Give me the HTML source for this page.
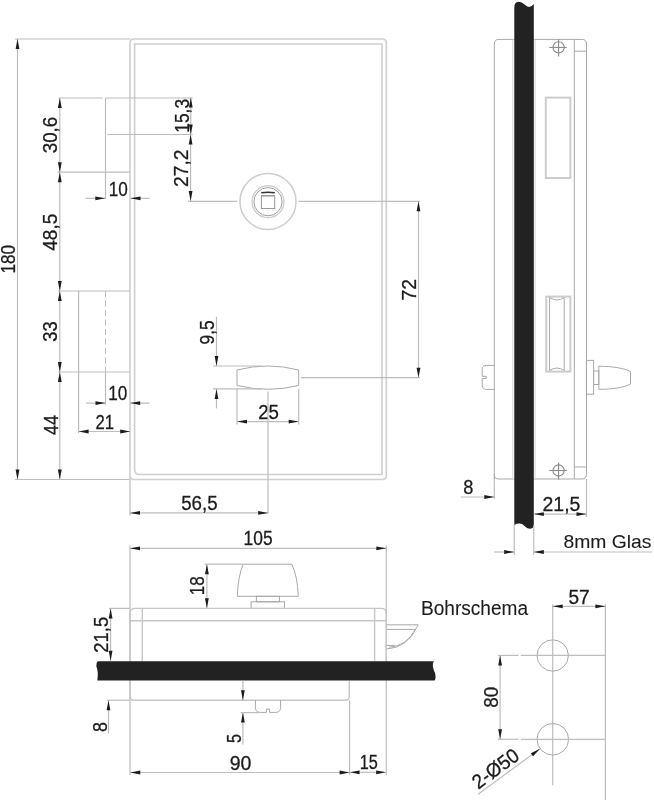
<!DOCTYPE html>
<html><head><meta charset="utf-8"><style>
html,body{margin:0;padding:0;background:#fff;}
svg{display:block;}
.d{stroke:#bdbdbd;stroke-width:1.2;fill:none;}
.o{stroke:#cfcfcf;stroke-width:1.6;fill:none;}
.o2{stroke:#dcdcdc;stroke-width:1.2;fill:none;}
.s{stroke:#cdcdcd;stroke-width:2;fill:none;}
.t{stroke:#a8a8a8;stroke-width:1;fill:none;}
.b{stroke:#c6c6c6;stroke-width:1.4;fill:none;}
.x{stroke:#8a8a8a;stroke-width:1.1;fill:none;}
.k{stroke:#9a9a9a;stroke-width:1;fill:none;}
.kd{stroke:#333;stroke-width:1.5;fill:none;}
.dash{stroke:#bdbdbd;stroke-width:1;fill:none;stroke-dasharray:6 3.5;}
.a{fill:#1c1c1c;stroke:none;}
.g{fill:#222;stroke:none;}
text{font-family:"Liberation Sans",sans-serif;fill:#1c1c1c;stroke:#1c1c1c;stroke-width:0.3;}
svg{will-change:transform;}
text.w{stroke-width:0.1;}
</style></head><body>
<svg width="654" height="800" viewBox="0 0 654 800">
<path class="o" d="M130,479.5 L130,43 Q130,39 134,39 L382.3,39 Q386.3,39 386.3,43 L386.3,475.5 Q386.3,479.5 382.3,479.5 L134,479.5 Q130,479.5 130,475.5 Z"/>
<path class="o" d="M134.6,44 L382,44 L382,474.5 L139.6,474.5 Q134.6,474.5 134.6,469.5 Z"/>
<line class="d" x1="15" y1="39" x2="130" y2="39"/>
<line class="d" x1="15" y1="479.5" x2="130" y2="479.5"/>
<line class="d" x1="17.5" y1="39" x2="17.5" y2="479.5"/>
<polygon class="a" points="17.50,39.00 15.60,49.00 19.40,49.00"/>
<polygon class="a" points="17.50,479.50 15.60,469.50 19.40,469.50"/>
<text transform="translate(14.70,259.20) rotate(-90)" x="0" y="0" font-size="20" textLength="28.70" lengthAdjust="spacingAndGlyphs" text-anchor="middle">180</text>
<line class="d" x1="58.5" y1="98" x2="102.6" y2="98"/>
<line class="d" x1="105.5" y1="98" x2="192.7" y2="98"/>
<line class="d" x1="57.5" y1="172.2" x2="130" y2="172.2"/>
<line class="d" x1="58" y1="291" x2="130" y2="291"/>
<line class="d" x1="58" y1="372" x2="130" y2="372"/>
<line class="d" x1="59.8" y1="98" x2="59.8" y2="172.2"/>
<polygon class="a" points="59.80,98.00 57.90,108.00 61.70,108.00"/>
<polygon class="a" points="59.80,172.20 57.90,162.20 61.70,162.20"/>
<line class="d" x1="59.8" y1="172.2" x2="59.8" y2="291"/>
<polygon class="a" points="59.80,172.20 57.90,182.20 61.70,182.20"/>
<polygon class="a" points="59.80,291.00 57.90,281.00 61.70,281.00"/>
<line class="d" x1="59.8" y1="291" x2="59.8" y2="372"/>
<polygon class="a" points="59.80,291.00 57.90,301.00 61.70,301.00"/>
<polygon class="a" points="59.80,372.00 57.90,362.00 61.70,362.00"/>
<line class="d" x1="59.8" y1="372" x2="59.8" y2="479.5"/>
<polygon class="a" points="59.80,372.00 57.90,382.00 61.70,382.00"/>
<polygon class="a" points="59.80,479.50 57.90,469.50 61.70,469.50"/>
<text transform="translate(57.20,135.00) rotate(-90)" x="0" y="0" font-size="20" textLength="36.50" lengthAdjust="spacingAndGlyphs" text-anchor="middle">30,6</text>
<text transform="translate(57.20,232.25) rotate(-90)" x="0" y="0" font-size="20" textLength="37.00" lengthAdjust="spacingAndGlyphs" text-anchor="middle">48,5</text>
<text transform="translate(57.40,331.50) rotate(-90)" x="0" y="0" font-size="20" textLength="20.50" lengthAdjust="spacingAndGlyphs" text-anchor="middle">33</text>
<text transform="translate(57.50,424.95) rotate(-90)" x="0" y="0" font-size="20" textLength="20.10" lengthAdjust="spacingAndGlyphs" text-anchor="middle">44</text>
<line class="d" x1="105.5" y1="98" x2="105.5" y2="199"/>
<line class="d" x1="107.3" y1="134.5" x2="192.7" y2="134.5"/>
<line class="d" x1="85.5" y1="198.3" x2="105.3" y2="198.3"/>
<polygon class="a" points="105.30,198.30 95.30,196.40 95.30,200.20"/>
<line class="d" x1="130.5" y1="198.3" x2="149.7" y2="198.3"/>
<polygon class="a" points="130.50,198.30 140.50,196.40 140.50,200.20"/>
<text x="118.20" y="196.00" font-size="20" textLength="19.10" lengthAdjust="spacingAndGlyphs" text-anchor="middle">10</text>
<line class="d" x1="190.8" y1="97.5" x2="190.8" y2="134.5"/>
<polygon class="a" points="190.80,97.50 188.90,107.50 192.70,107.50"/>
<polygon class="a" points="190.80,134.50 188.90,124.50 192.70,124.50"/>
<line class="d" x1="190.6" y1="134.5" x2="190.6" y2="200.9"/>
<polygon class="a" points="190.60,134.50 188.70,144.50 192.50,144.50"/>
<polygon class="a" points="190.60,200.90 188.70,190.90 192.50,190.90"/>
<text transform="translate(189.00,115.85) rotate(-90)" x="0" y="0" font-size="20" textLength="33.80" lengthAdjust="spacingAndGlyphs" text-anchor="middle">15,3</text>
<text transform="translate(188.20,168.25) rotate(-90)" x="0" y="0" font-size="20" textLength="37.40" lengthAdjust="spacingAndGlyphs" text-anchor="middle">27,2</text>
<line class="d" x1="188" y1="201.3" x2="237.3" y2="201.3"/>
<line class="d" x1="298.5" y1="201.3" x2="420" y2="201.3"/>
<circle class="o" cx="268" cy="201.5" r="28"/>
<circle class="o" cx="268" cy="201.7" r="15.9" style="stroke-width:1.4"/>
<circle class="k" cx="268" cy="201.7" r="14.1" style="stroke:#a0a0a0"/>
<rect class="k" x="261.4" y="195.6" width="13.3" height="12.9"/>
<line class="k" x1="261.4" y1="196" x2="274.7" y2="196"/>
<path class="kd" d="M261.3,192.8 Q268,191.8 274.8,192.8"/>
<line class="d" x1="301" y1="377.7" x2="420" y2="377.7"/>
<line class="d" x1="418.5" y1="201.3" x2="418.5" y2="377.7"/>
<polygon class="a" points="418.50,201.30 416.60,211.30 420.40,211.30"/>
<polygon class="a" points="418.50,377.70 416.60,367.70 420.40,367.70"/>
<text transform="translate(416.30,289.75) rotate(-90)" x="0" y="0" font-size="20" textLength="21.40" lengthAdjust="spacingAndGlyphs" text-anchor="middle">72</text>
<line class="d" x1="78.6" y1="291" x2="78.6" y2="433"/>
<line class="dash" x1="105.5" y1="291" x2="105.5" y2="372"/>
<line class="d" x1="105.5" y1="372" x2="105.5" y2="405"/>
<line class="d" x1="85.9" y1="403.1" x2="105.5" y2="403.1"/>
<polygon class="a" points="105.50,403.10 95.50,401.20 95.50,405.00"/>
<line class="d" x1="130.2" y1="403.1" x2="149.5" y2="403.1"/>
<polygon class="a" points="130.20,403.10 140.20,401.20 140.20,405.00"/>
<text x="117.70" y="399.50" font-size="20" textLength="19.10" lengthAdjust="spacingAndGlyphs" text-anchor="middle">10</text>
<line class="d" x1="78.6" y1="431.5" x2="130.2" y2="431.5"/>
<polygon class="a" points="78.60,431.50 88.60,429.60 88.60,433.40"/>
<polygon class="a" points="130.20,431.50 120.20,429.60 120.20,433.40"/>
<text x="104.85" y="428.80" font-size="20" textLength="18.60" lengthAdjust="spacingAndGlyphs" text-anchor="middle">21</text>
<path class="t" d="M237,370 Q268,362 298.7,370 L298.7,385.5 Q268,393 237,385.5 Z"/>
<line class="d" x1="213" y1="366" x2="262" y2="366"/>
<line class="d" x1="213" y1="388.8" x2="262" y2="388.8"/>
<line class="d" x1="216.5" y1="316.8" x2="216.5" y2="366"/>
<polygon class="a" points="216.50,366.00 214.60,356.00 218.40,356.00"/>
<line class="d" x1="216.5" y1="389" x2="216.5" y2="408.4"/>
<polygon class="a" points="216.50,389.00 214.60,399.00 218.40,399.00"/>
<text transform="translate(214.30,332.35) rotate(-90)" x="0" y="0" font-size="20" textLength="24.20" lengthAdjust="spacingAndGlyphs" text-anchor="middle">9,5</text>
<line class="d" x1="237" y1="389" x2="237" y2="424.4"/>
<line class="d" x1="298.7" y1="389" x2="298.7" y2="424.4"/>
<line class="d" x1="237" y1="421.6" x2="298.7" y2="421.6"/>
<polygon class="a" points="237.00,421.60 247.00,419.70 247.00,423.50"/>
<polygon class="a" points="298.70,421.60 288.70,419.70 288.70,423.50"/>
<text x="268.55" y="419.40" font-size="20" textLength="20.80" lengthAdjust="spacingAndGlyphs" text-anchor="middle">25</text>
<line class="d" x1="268" y1="391.6" x2="268" y2="513"/>
<line class="d" x1="130" y1="479.5" x2="130" y2="515.5"/>
<line class="d" x1="130" y1="545.5" x2="130" y2="775"/>
<line class="d" x1="386.3" y1="545.5" x2="386.3" y2="775"/>
<line class="d" x1="130" y1="512.9" x2="268.2" y2="512.9"/>
<polygon class="a" points="130.00,512.90 140.00,511.00 140.00,514.80"/>
<polygon class="a" points="268.20,512.90 258.20,511.00 258.20,514.80"/>
<text x="199.35" y="509.80" font-size="20" textLength="36.40" lengthAdjust="spacingAndGlyphs" text-anchor="middle">56,5</text>
<line class="d" x1="130" y1="548.3" x2="386.3" y2="548.3"/>
<polygon class="a" points="130.00,548.30 140.00,546.40 140.00,550.20"/>
<polygon class="a" points="386.30,548.30 376.30,546.40 376.30,550.20"/>
<text x="258.05" y="545.20" font-size="20" textLength="29.00" lengthAdjust="spacingAndGlyphs" text-anchor="middle">105</text>
<path class="t" d="M243.2,564.2 L291.8,564.2 Q297.5,576 298.3,596.3 L237.3,596.3 Q238,576 243.2,564.2 Z"/>
<rect class="t" x="256.4" y="596.3" width="23.00" height="5.50" rx="0"/>
<rect class="t" x="251.1" y="601.8" width="33.40" height="6.60" rx="0"/>
<line class="d" x1="204.7" y1="564.2" x2="243.2" y2="564.2"/>
<line class="d" x1="206.9" y1="564.2" x2="206.9" y2="608.2"/>
<polygon class="a" points="206.90,564.20 205.00,574.20 208.80,574.20"/>
<polygon class="a" points="206.90,608.20 205.00,598.20 208.80,598.20"/>
<text transform="translate(203.80,585.70) rotate(-90)" x="0" y="0" font-size="20" textLength="18.90" lengthAdjust="spacingAndGlyphs" text-anchor="middle">18</text>
<path class="b" d="M130,661 L130,613.4 Q130,608.4 135,608.4 L381.3,608.4 Q386.3,608.4 386.3,613.4 L386.3,661"/>
<line class="b" x1="130" y1="620.7" x2="386.3" y2="620.7"/>
<line class="b" x1="142.3" y1="608.4" x2="142.3" y2="661"/>
<line class="b" x1="374.6" y1="608.4" x2="374.6" y2="661"/>
<line class="d" x1="109" y1="608.4" x2="130" y2="608.4"/>
<line class="d" x1="110.6" y1="608.4" x2="110.6" y2="660.8"/>
<polygon class="a" points="110.60,608.40 108.70,618.40 112.50,618.40"/>
<polygon class="a" points="110.60,660.80 108.70,650.80 112.50,650.80"/>
<text transform="translate(108.30,634.80) rotate(-90)" x="0" y="0" font-size="20" textLength="35.90" lengthAdjust="spacingAndGlyphs" text-anchor="middle">21,5</text>
<path class="t" d="M386.6,624.8 L418.2,624.8 Q408,648 386.6,649"/>
<path class="t" d="M386.6,629.4 L415.5,629.4 Q406,646.5 389,647.2 M386.6,645.4 L395,645.4"/>
<path class="b" d="M130,680.7 L130,696.2 Q130,700.2 134,700.2 L345.3,700.2 Q349.3,700.2 349.3,696.2 L349.3,680.7"/>
<path class="g" d="M97.8,661.3 L433.8,661.3 Q432.6,663.5 432.9,666.5 Q433.5,670 435,673 Q435.8,676 435.5,678 Q435.2,680.6 434.3,680.6 L97.3,680.6 Q97.8,676 97.8,673 Q97.5,669 96.4,666.5 Q96.2,662.3 97.8,661.3 Z"/>
<line class="d" x1="106.5" y1="700.2" x2="130" y2="700.2"/>
<line class="d" x1="108.5" y1="700.2" x2="108.5" y2="733.75"/>
<polygon class="a" points="108.50,700.20 106.60,710.20 110.40,710.20"/>
<text transform="translate(106.60,726.90) rotate(-90)" x="0" y="0" font-size="20" textLength="10.00" lengthAdjust="spacingAndGlyphs" text-anchor="middle">8</text>
<path class="t" d="M255.4,700.2 L255.4,707.4 Q255.4,712.4 260.4,712.4 L266.5,712.4 L266.5,709.1 L269.6,709.1 L269.6,712.4 L275.6,712.4 Q280.6,712.4 280.6,707.4 L280.6,700.2"/>
<line class="d" x1="242.9" y1="680.7" x2="242.9" y2="700.2"/>
<polygon class="a" points="242.90,700.20 241.00,690.20 244.80,690.20"/>
<line class="d" x1="242.9" y1="712.6" x2="242.9" y2="744.4"/>
<polygon class="a" points="242.90,712.60 241.00,722.60 244.80,722.60"/>
<line class="d" x1="240.7" y1="712.6" x2="259.6" y2="712.6"/>
<text transform="translate(240.70,738.60) rotate(-90)" x="0" y="0" font-size="20" textLength="9.00" lengthAdjust="spacingAndGlyphs" text-anchor="middle">5</text>
<line class="d" x1="349.6" y1="700.2" x2="349.6" y2="775"/>
<line class="d" x1="130.25" y1="772.5" x2="349.6" y2="772.5"/>
<polygon class="a" points="130.25,772.50 140.25,770.60 140.25,774.40"/>
<polygon class="a" points="349.60,772.50 339.60,770.60 339.60,774.40"/>
<text x="240.50" y="769.50" font-size="20" textLength="21.70" lengthAdjust="spacingAndGlyphs" text-anchor="middle">90</text>
<line class="d" x1="360" y1="772.3" x2="377" y2="772.3"/>
<polygon class="a" points="349.60,772.30 359.60,770.40 359.60,774.20"/>
<polygon class="a" points="386.20,772.30 376.20,770.40 376.20,774.20"/>
<text x="368.80" y="769.40" font-size="20" textLength="18.10" lengthAdjust="spacingAndGlyphs" text-anchor="middle">15</text>
<text class="w" x="421" y="615.3" font-size="19.5" textLength="107" lengthAdjust="spacingAndGlyphs">Bohrschema</text>
<path class="t" d="M494.3,479 L494.3,44 Q494.3,39.4 498.9,39.4 L581.9,39.4 Q586.5,39.4 586.5,44 L586.5,474.4 Q586.5,479 581.9,479 L498.9,479 Q494.3,479 494.3,474.4 Z"/>
<line class="o2" x1="512.8" y1="39.5" x2="512.8" y2="479"/>
<line class="o2" x1="535" y1="39.5" x2="535" y2="479"/>
<line class="t" x1="574.3" y1="39.4" x2="574.3" y2="479"/>
<line class="t" x1="574.3" y1="51.2" x2="586.5" y2="51.2"/>
<line class="t" x1="574.3" y1="467" x2="586.5" y2="467"/>
<circle class="x" cx="558.6" cy="47.4" r="5.6"/>
<line class="x" x1="549.2" y1="47.4" x2="566.8" y2="47.4"/>
<line class="x" x1="558.6" y1="39.3" x2="558.6" y2="56.4"/>
<circle class="x" cx="558.6" cy="470.5" r="5.6"/>
<line class="x" x1="549.2" y1="470.5" x2="566.8" y2="470.5"/>
<line class="x" x1="558.6" y1="462.4" x2="558.6" y2="479.5"/>
<path class="g" d="M514.3,525 L514.3,8 Q514.3,1.7 518.5,1.7 Q522,1.7 524.5,4.5 Q527,6.9 529,6.9 Q532,6.7 533.8,4 L533.8,525 Q533.8,528.7 529.5,528.7 Q527,528.7 524.5,526 Q522,523.6 519.5,523.6 Q516.5,523.6 514.3,525 Z"/>
<rect class="s" x="545.8" y="97.6" width="24.60" height="80.40" rx="0"/>
<rect class="s" x="546.2" y="296.6" width="24.20" height="75.00" rx="0"/>
<line class="t" x1="549.6" y1="297.5" x2="549.6" y2="370.5"/>
<line class="t" x1="564.2" y1="297.5" x2="564.2" y2="370.5"/>
<path class="t" d="M549.6,297.5 Q557,302.5 564.2,297.5 M549.6,370.5 Q557,365.5 564.2,370.5"/>
<path class="t" d="M494.5,365.4 L486.4,365.4 Q482.2,365.4 482.2,369.6 L482.2,376.3 L486.2,376.3 L486.2,378.6 L482.2,378.6 L482.2,385.2 Q482.2,389.4 486.4,389.4 L494.5,389.4"/>
<rect class="t" x="586.4" y="360.4" width="7.20" height="33.80" rx="0"/>
<rect class="t" x="593.6" y="371" width="5.20" height="13.50" rx="0"/>
<path class="t" d="M598.8,366.3 C612,366.3 624,368 630.5,371.6 L630.5,384 C624,387.6 612,389.3 598.8,389.3 Z"/>
<line class="d" x1="494.3" y1="479" x2="494.3" y2="499"/>
<line class="d" x1="460.7" y1="497" x2="494.3" y2="497"/>
<polygon class="a" points="494.30,497.00 484.30,495.10 484.30,498.90"/>
<text x="468.40" y="493.90" font-size="20" textLength="10.10" lengthAdjust="spacingAndGlyphs" text-anchor="middle">8</text>
<line class="d" x1="586.5" y1="479" x2="586.5" y2="517"/>
<line class="d" x1="533.8" y1="514.1" x2="586.5" y2="514.1"/>
<polygon class="a" points="533.80,514.10 543.80,512.20 543.80,516.00"/>
<polygon class="a" points="586.50,514.10 576.50,512.20 576.50,516.00"/>
<text x="561.50" y="511.30" font-size="20" textLength="37.90" lengthAdjust="spacingAndGlyphs" text-anchor="middle">21,5</text>
<line class="d" x1="514.2" y1="525" x2="514.2" y2="554.7"/>
<line class="d" x1="533.8" y1="525" x2="533.8" y2="554.7"/>
<line class="d" x1="494.3" y1="552" x2="514.2" y2="552"/>
<polygon class="a" points="514.20,552.00 504.20,550.10 504.20,553.90"/>
<line class="d" x1="533.8" y1="552" x2="652.3" y2="552"/>
<polygon class="a" points="533.80,552.00 543.80,550.10 543.80,553.90"/>
<text class="w" x="563.5" y="548.3" font-size="19" textLength="88" lengthAdjust="spacingAndGlyphs">8mm Glas</text>
<line class="d" x1="552.7" y1="604.3" x2="552.7" y2="785.2"/>
<line class="d" x1="605.4" y1="604.3" x2="605.4" y2="800"/>
<line class="d" x1="552.7" y1="606.3" x2="605.4" y2="606.3"/>
<polygon class="a" points="552.70,606.30 562.70,604.40 562.70,608.20"/>
<polygon class="a" points="605.40,606.30 595.40,604.40 595.40,608.20"/>
<text x="579.05" y="604.30" font-size="20" textLength="21.20" lengthAdjust="spacingAndGlyphs" text-anchor="middle">57</text>
<circle class="t" cx="552.7" cy="655.5" r="15.7"/>
<circle class="t" cx="552.8" cy="739.3" r="15.8"/>
<line class="d" x1="498" y1="655.4" x2="518.6" y2="655.4"/>
<line class="d" x1="520.8" y1="655.4" x2="605.4" y2="655.4"/>
<line class="d" x1="498" y1="739.3" x2="518.6" y2="739.3"/>
<line class="d" x1="520.8" y1="739.3" x2="605.4" y2="739.3"/>
<line class="d" x1="500.1" y1="655.4" x2="500.1" y2="739.3"/>
<polygon class="a" points="500.10,655.40 498.20,665.40 502.00,665.40"/>
<polygon class="a" points="500.10,739.30 498.20,729.30 502.00,729.30"/>
<text transform="translate(497.80,697.35) rotate(-90)" x="0" y="0" font-size="20" textLength="21.00" lengthAdjust="spacingAndGlyphs" text-anchor="middle">80</text>
<line class="d" x1="478.1" y1="794.2" x2="540" y2="748.8"/>
<polygon class="a" points="540.00,748.80 533.07,756.25 530.82,753.19"/>
<text transform="translate(495.3,768.4) rotate(-36.3)" x="0" y="7.1" font-size="20" textLength="53" lengthAdjust="spacingAndGlyphs" text-anchor="middle">2-Ø50</text>
</svg>
</body></html>
